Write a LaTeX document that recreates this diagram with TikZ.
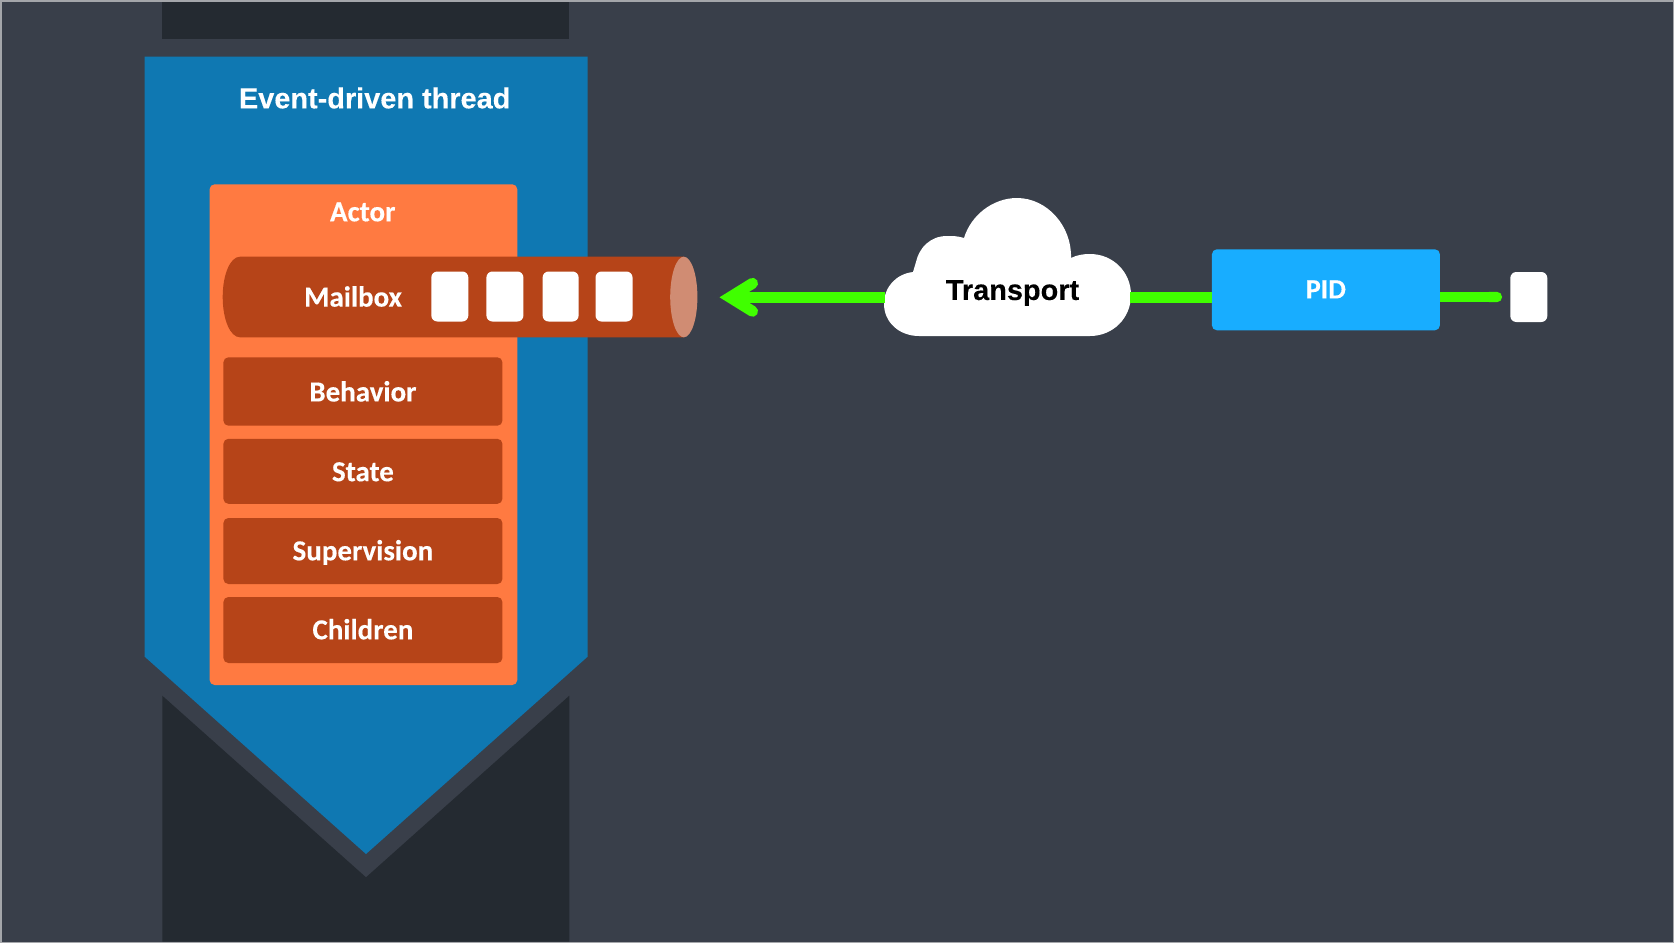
\documentclass[tikz,border=0pt]{standalone}
\usepackage{fontspec}
\setmainfont{Carlito}[BoldFeatures={FakeBold=0.2}]
\newfontfamily\arialb{Liberation Sans}[BoldFeatures={FakeBold=0.2}]
\usetikzlibrary{arrows.meta}
\definecolor{bgc}{HTML}{393F4A}
\definecolor{edgec}{HTML}{A4A6AA}
\definecolor{darkc}{HTML}{242A31}
\definecolor{bluec}{HTML}{0F78B2}
\definecolor{orangec}{HTML}{FF7A41}
\definecolor{brownc}{HTML}{B64418}
\definecolor{endc}{HTML}{D08C73}
\definecolor{pidc}{HTML}{18ADFF}
\definecolor{greenc}{HTML}{40FF00}
\tikzset{
  slab/.style={fill=brownc,rounded corners=2.5pt,inner sep=0pt,minimum width=139.5pt,text=white,text height=9.9pt,text depth=0pt,font=\fontsize{14.5}{16}\selectfont\bfseries},
  msg/.style={fill=white,rounded corners=3pt,inner sep=0pt,minimum width=18.5pt,minimum height=25pt},
  lab/.style={inner sep=0pt,text=white,font=\fontsize{14.5}{16}\selectfont\bfseries},
  arl/.style={inner sep=0pt,font=\fontsize{14.45}{16}\selectfont\arialb\bfseries},
  wire/.style={draw=greenc,line width=5.2pt}
}
\begin{document}
\begin{tikzpicture}[x=.5pt,y=-.5pt]
\useasboundingbox (0,0) rectangle (1674,943);
\fill[edgec] (0,0) rectangle (1674,943);
\fill[bgc] (1.5,1.5) rectangle (1672.5,941.5);
% dark bars behind the thread
\fill[darkc] (162.3,1.5) rectangle (569.3,39.3);
\fill[darkc] (162.3,695.7) -- (366,877.3) -- (569.3,695.7) -- (569.3,941.5) -- (162.3,941.5) -- cycle;
% thread
\fill[bluec] (144.7,56.7) -- (587.6,56.7) -- (587.6,656.7) -- (366,854) -- (144.7,656.7) -- cycle;
\node[arl,text=white] (thread) at (374.7,98) {Event-driven thread};
% actor
\fill[orangec,rounded corners=2.5pt] (209.6,184.3) rectangle (517.3,685);
\node[lab] (actor) at (362.7,212) {Actor};
\node[slab,minimum height=34.2pt] (behavior) at (362.9,391.5) {Behavior};
\node[slab,minimum height=32.5pt] (state) at (362.9,471.3) {State};
\node[slab,minimum height=33pt,text height=9.3pt] (supervision) at (362.9,551) {Supervision};
\node[slab,minimum height=33pt,text height=9.3pt] (children) at (362.9,630) {Children};
% mailbox
\fill[brownc] (683.8,256.7) -- (240,256.7) .. controls (230,256.7) and (222.7,275) .. (222.7,297) .. controls (222.7,319) and (230,337.3) .. (240,337.3) -- (683.8,337.3) -- cycle;
\fill[endc] (683.8,297) ellipse [x radius=13.6,y radius=40.3];
\node[lab] (mailbox) at (353,296.5) {Mailbox};
\node[msg] (m1) at (449.8,296.5) {};
\node[msg] (m2) at (504.9,296.5) {};
\node[msg,minimum width=18pt] (m3) at (560.6,296.5) {};
\node[msg] (m4) at (614,296.5) {};
% transport cloud
\fill[white] (919,336) -- (1090,336)
  .. controls (1113,336) and (1131,318) .. (1131,295)
  .. controls (1131,272) and (1113,254) .. (1090,254)
  .. controls (1083,254) and (1077,255) .. (1071,258)
  .. controls (1072,226) and (1047,198) .. (1017,198)
  .. controls (993,198) and (971,215) .. (964,238)
  .. controls (958,236) and (953,236) .. (947,236)
  .. controls (930,236) and (919,248) .. (916,262)
  -- (913,272)
  .. controls (896,274) and (884,287) .. (884,304)
  .. controls (884,322) and (899,336) .. (919,336) -- cycle;
\node[arl,text=black] (transport) at (1012.5,293) {Transport};
% pid
\node[fill=pidc,rounded corners=2.5pt,inner sep=0pt,minimum width=114pt,minimum height=40.5pt,text=white,text height=8.6pt,text depth=0pt,font=\fontsize{14}{16}\selectfont\bfseries] (pid) at (1325.9,289.8) {PID};
\node[msg] (msg) at (1528.8,297) {};
% connectors
\coordinate (cloudE) at (1130,297.3);
\coordinate (cloudW) at (885,297.3);
\coordinate (tip) at (719.5,297.3);
\draw[wire,{Round Cap[]}-,shorten <=3.9pt] (msg.west) -- (pid.east |- msg.west);
\draw[wire] (pid.west |- cloudE) -- (cloudE);
\draw[wire,-{Straight Barb[length=11.3pt,width=14pt,line width=5.5pt,line cap=round,line join=miter]}] (cloudW) -- (tip);
\end{tikzpicture}
\end{document}
